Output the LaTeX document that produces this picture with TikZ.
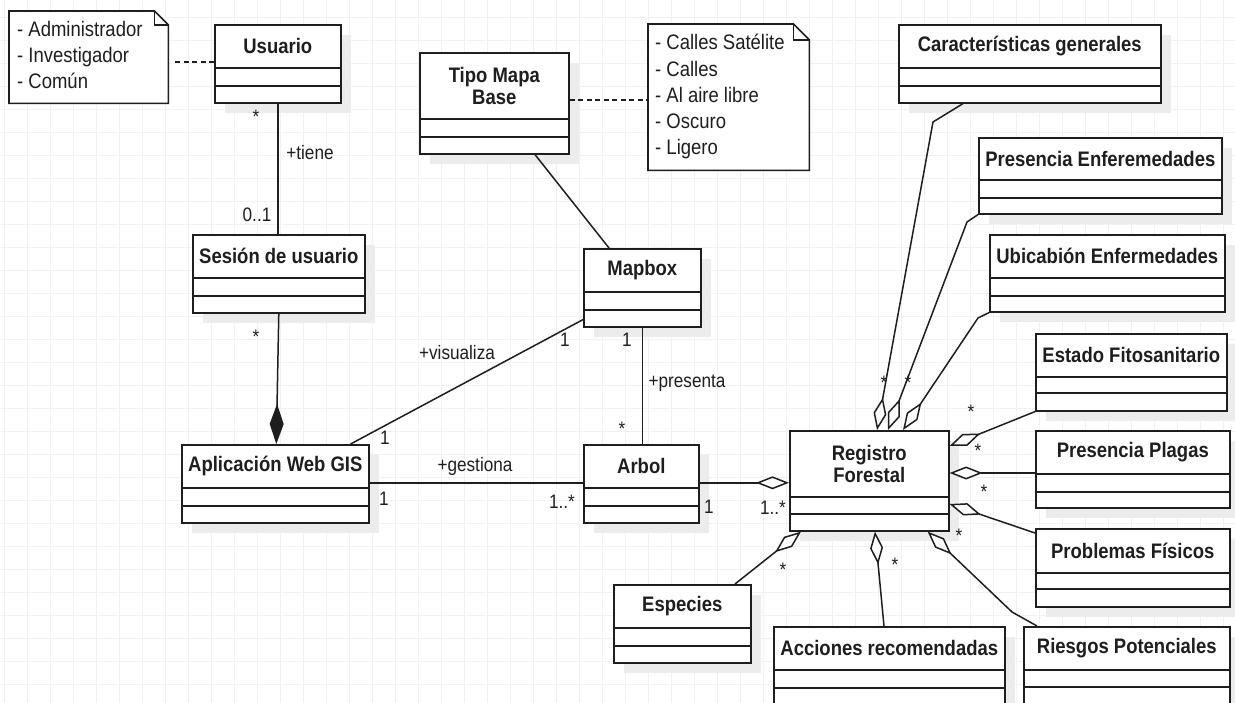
\documentclass[tikz,border=0pt]{standalone}
\usepackage{fontspec}
\setmainfont{Liberation Sans}[FakeStretch=0.88]
\usetikzlibrary{arrows.meta,calc}

\definecolor{ink}{HTML}{1E1E1E}
\definecolor{gridc}{HTML}{F1F1F1}
\definecolor{shadowgray}{HTML}{ECECEC}

\tikzset{
  classbox/.style={draw=ink, line width=1.6pt, fill=white, inner sep=0pt, anchor=north west},
  classname/.style={font=\bfseries\fontsize{21}{22}\selectfont, align=center, inner sep=0pt, text=ink},
  compart/.style={draw=ink, line width=1.6pt},
  notebox/.style={draw=ink, line width=1.6pt, fill=white},
  notetext/.style={font=\fontsize{21}{26}\selectfont, inner sep=0pt, anchor=base west, text=ink},
  link/.style={draw=ink, line width=1.5pt},
  notelink/.style={draw=ink, line width=1.8pt, dash pattern=on 5pt off 3.5pt},
  agg/.style={link, -{Diamond[open, length=33pt, width=13pt, fill=white]}},
  comp/.style={link, -{Diamond[length=40pt, width=14pt]}},
  mult/.style={font=\fontsize{19.5}{20}\selectfont, inner sep=0pt, text=ink},
}

% UML class: name, x, y, width, height, header height, second divider, title
\newcommand{\umlclass}[8]{%
  \fill[shadowgray] (#2+11,#3+11) rectangle ++(#4,#5);
  \node[classbox, minimum width=#4pt, minimum height=#5pt] (#1) at (#2,#3) {};
  \node[classname] (#1-title) at ($(#1.north)+(0,#6/2)$) {#8};
  \draw[compart] ($(#1.north west)+(0,#6)$) -- ($(#1.north east)+(0,#6)$);
  \draw[compart] ($(#1.north west)+(0,#7)$) -- ($(#1.north east)+(0,#7)$);
}

% note with a folded corner: name, x, y, width, height, fold
\newcommand{\umlnote}[6]{%
  \node[inner sep=0pt, minimum width=#4pt, minimum height=#5pt, anchor=north west] (#1) at (#2,#3) {};
  \draw[notebox] (#1.north west) -- ($(#1.north east)+(-#6,0)$) -- ($(#1.north east)+(0,#6)$)
    -- (#1.south east) -- (#1.south west) -- cycle;
  \draw[notebox, fill=none] ($(#1.north east)+(-#6,0)$) -- ($(#1.north east)+(-#6,#6)$) -- ($(#1.north east)+(0,#6)$);
}

\begin{document}
\begin{tikzpicture}[x=1pt, y=-1pt]
\useasboundingbox (0,0) rectangle (1235,703);
\clip (0,0) rectangle (1235,703);
\fill[white] (0,0) rectangle (1235,703);

% background grid
\foreach \gx in {4,27,...,1235} \draw[gridc, line width=0.8pt] (\gx,0) -- (\gx,703);
\foreach \gy in {17,40,...,703} \draw[gridc, line width=0.8pt] (0,\gy) -- (1235,\gy);

% classes
\umlclass{usuario}{214}{24}{126}{78}{44}{62}{Usuario}
\umlclass{sesion}{192}{234}{172}{78}{44}{62}{Sesión de usuario}
\umlclass{tipo}{419}{52}{149}{101}{67}{85}{Tipo Mapa\\Base}
\umlclass{mapbox}{583}{248}{117}{78}{44}{62}{Mapbox}
\umlclass{app}{181}{444}{187}{78}{44}{62}{Aplicación Web GIS}
\umlclass{arbol}{583}{444}{115}{78}{44}{62}{Arbol}
\umlclass{registro}{789}{430}{159}{100}{67}{84}{Registro\\Forestal}
\umlclass{caract}{898}{24}{262}{78}{44}{62}{Características generales}
\umlclass{presenf}{978}{137}{243}{76}{43}{61}{Presencia Enferemedades}
\umlclass{ubic}{989}{234}{235}{77}{44}{62}{Ubicabión Enfermedades}
\umlclass{estado}{1035}{333}{191}{77}{44}{60}{Estado Fitosanitario}
\umlclass{plagas}{1035}{430}{194}{77}{44}{62}{Presencia Plagas}
\umlclass{problemas}{1035}{528}{194}{78}{45}{61}{Problemas Físicos}
\umlclass{riesgos}{1023}{626}{206}{78}{44}{61}{Riesgos Potenciales}
\umlclass{acciones}{773}{626}{231}{78}{44}{62}{Acciones recomendadas}
\umlclass{especies}{613}{584}{137}{78}{44}{62}{Especies}

% notes
\umlnote{roles}{9}{11}{159}{92}{14}
\node[notetext] (roles-a) at (17,37) {- Administrador};
\node[notetext] (roles-b) at (17,63) {- Investigador};
\node[notetext] (roles-c) at (17,89) {- Común};

\umlnote{estilos}{648}{24}{161}{146}{16}
\node[notetext] (estilos-a) at (655,50) {- Calles Satélite};
\node[notetext] (estilos-b) at (655,77) {- Calles};
\node[notetext] (estilos-c) at (655,103) {- Al aire libre};
\node[notetext] (estilos-d) at (655,129) {- Oscuro};
\node[notetext] (estilos-e) at (655,155) {- Ligero};

% note links
\draw[notelink] ($(roles.east |- usuario.west)+(7,-2)$) -- ($(usuario.west)+(0,-2)$);
\draw[notelink] ($(tipo.east)+(0,-3)$) -- ($(tipo.east -| estilos.west)+(0,-3)$);

% associations
\draw[link] (usuario.south) -- (usuario.south |- sesion.north);
\draw[comp] (sesion.south) -- ($(app.north)+(1,0)$);
\draw[link] ($(tipo.south west)+(116,0)$) -- ($(mapbox.north west)+(26,0)$);
\draw[link] ($(mapbox.south west)+(0,-8)$) -- ($(app.north east)+(-19,0)$);
\draw[link] (mapbox.south) -- (mapbox.south |- arbol.north);
\draw[link] ($(app.east)+(0,-1)$) -- ($(arbol.west)+(0,-1)$);
\draw[agg] ($(arbol.east)+(0,-1)$) -- ($(arbol.east -| registro.west)+(0,-1)$);

% aggregations into the forest record
\draw[agg] ($(caract.south west)+(65,0)$) -- (933,122) -- ($(registro.north west)+(88,0)$);
\draw[agg] (presenf.south west) -- (967,222) -- ($(registro.north west)+(99,0)$);
\draw[agg] (ubic.south west) -- (978,318) -- ($(registro.north west)+(114,0)$);
\draw[agg] (estado.south west) -- ($(registro.north east)+(0,16)$);
\draw[agg] ($(plagas.north west)+(0,43)$) -- ($(registro.north east)+(0,43)$);
\draw[agg] ($(problemas.north west)+(0,5)$) -- ($(registro.north east)+(0,74)$);
\draw[agg] ($(riesgos.north west)+(14,0)$) -- (1012,612) -- ($(registro.south east)+(-22,0)$);
\draw[agg] ($(acciones.north west)+(111,0)$) -- ($(registro.south west)+(86,0)$);
\draw[agg] ($(especies.north west)+(122,0)$) -- ($(registro.south west)+(12,0)$);

% multiplicities and roles
\node[mult] (m1) at (256,117) {*};
\node[mult] (m2) at (310,153) {+tiene};
\node[mult] (m3) at (257,215) {0..1};
\node[mult] (m4) at (256,337) {*};
\node[mult] (m5) at (457,353) {+visualiza};
\node[mult] (m6) at (565,340) {1};
\node[mult] (m7) at (627,340) {1};
\node[mult] (m8) at (687,383) {+presenta};
\node[mult] (m9) at (622,429) {*};
\node[mult] (m10) at (385,438) {1};
\node[mult] (m11) at (475,466) {+gestiona};
\node[mult] (m12) at (384,499) {1};
\node[mult] (m13) at (562,502) {1..*};
\node[mult] (m14) at (709,507) {1};
\node[mult] (m15) at (773,508) {1..*};
\node[mult] (m16) at (884,383) {*};
\node[mult] (m17) at (908,383) {*};
\node[mult] (m18) at (971,412) {*};
\node[mult] (m19) at (978,451) {*};
\node[mult] (m20) at (984,492) {*};
\node[mult] (m21) at (959,536) {*};
\node[mult] (m22) at (783,570) {*};
\node[mult] (m23) at (895,565) {*};
\end{tikzpicture}
\end{document}
